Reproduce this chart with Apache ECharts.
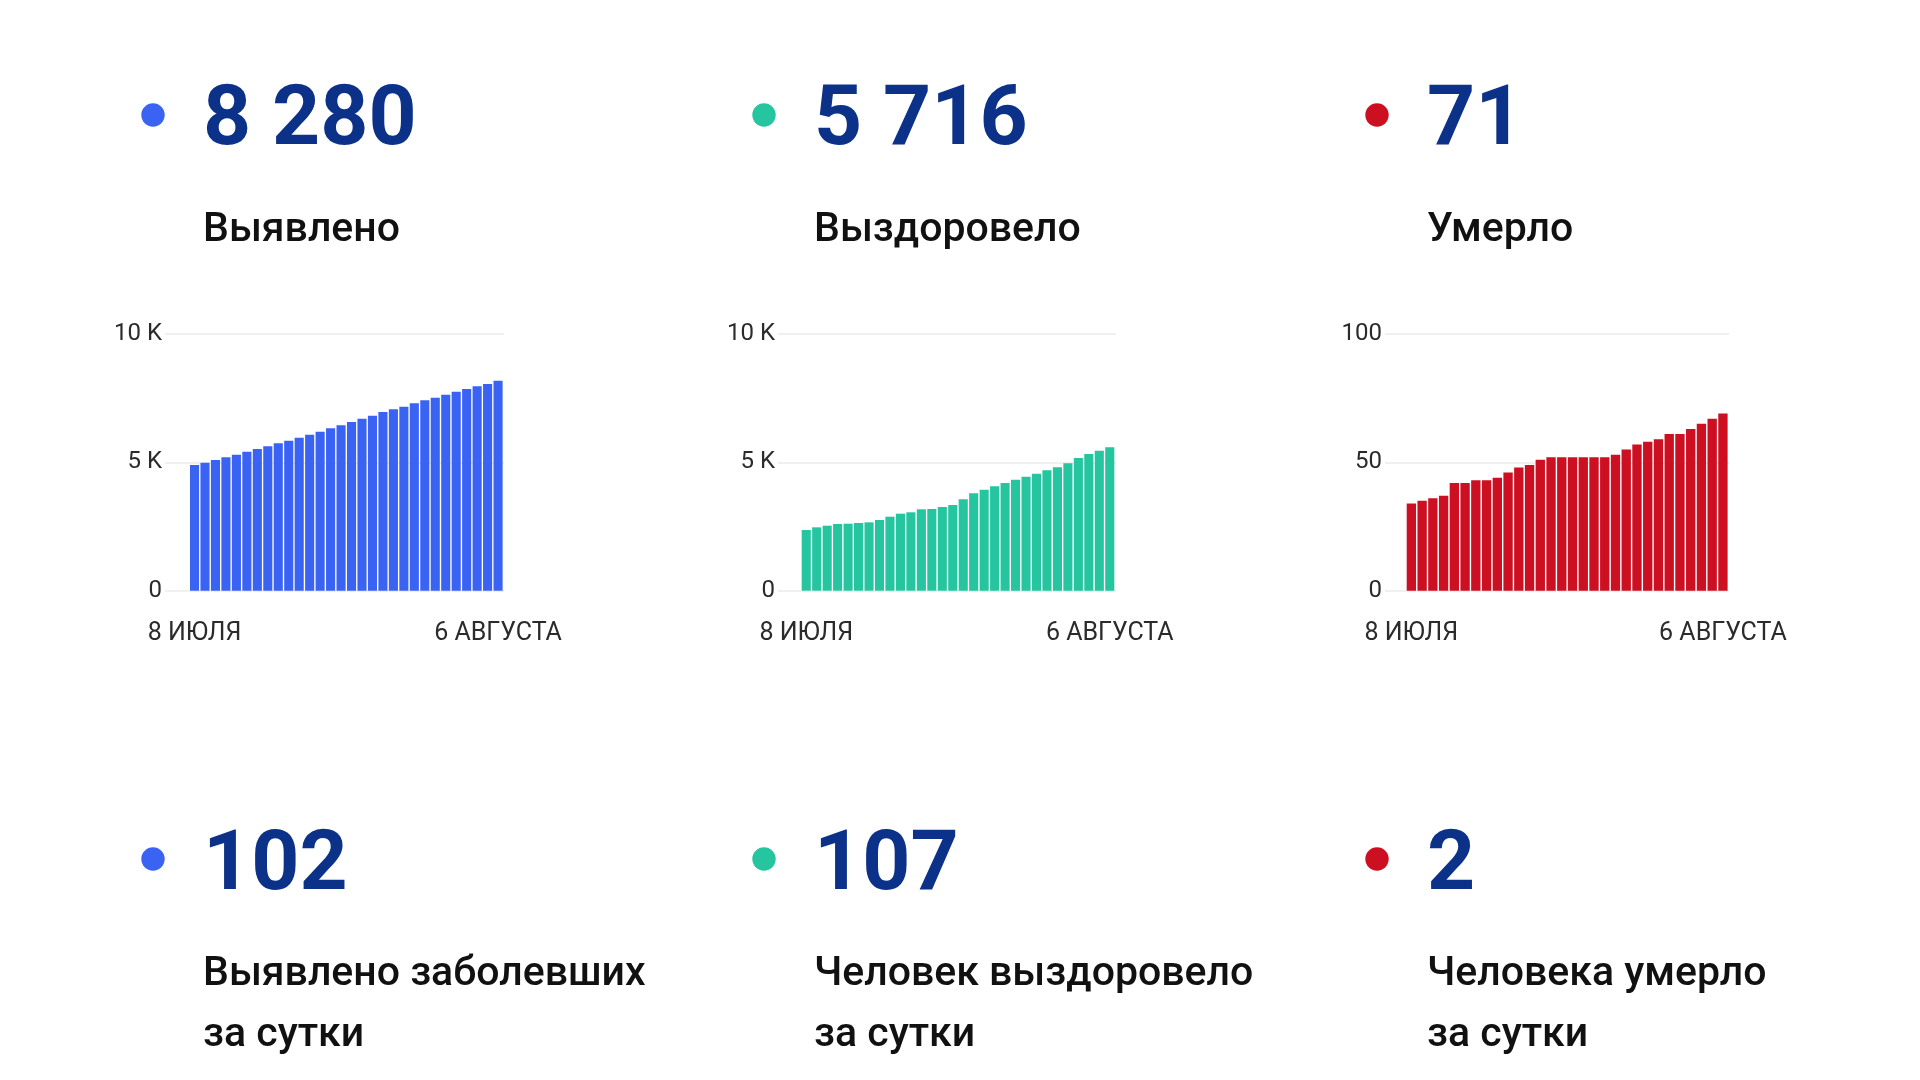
<!DOCTYPE html>
<html>
<head>
<meta charset="utf-8">
<script src="https://cdn.jsdelivr.net/npm/echarts@6/dist/echarts.min.js"></script>
<style>
html,body{margin:0;padding:0;background:#fff;}
#c{width:1920px;height:1080px;}
</style>
</head>
<body>
<div id="c"></div>
<script>
// ---- data ----
var dates = ["8 ИЮЛЯ","9 ИЮЛЯ","10 ИЮЛЯ","11 ИЮЛЯ","12 ИЮЛЯ","13 ИЮЛЯ","14 ИЮЛЯ","15 ИЮЛЯ","16 ИЮЛЯ","17 ИЮЛЯ",
  "18 ИЮЛЯ","19 ИЮЛЯ","20 ИЮЛЯ","21 ИЮЛЯ","22 ИЮЛЯ","23 ИЮЛЯ","24 ИЮЛЯ","25 ИЮЛЯ","26 ИЮЛЯ","27 ИЮЛЯ",
  "28 ИЮЛЯ","29 ИЮЛЯ","30 ИЮЛЯ","31 ИЮЛЯ","1 АВГУСТА","2 АВГУСТА","3 АВГУСТА","4 АВГУСТА","5 АВГУСТА","6 АВГУСТА"];
var confirmed = [4897,4987,5092,5196,5298,5415,5520,5625,5742,5843,5960,6077,6194,6326,6443,6572,6700,6817,6961,7066,
  7168,7300,7417,7519,7636,7752,7858,7963,8052,8178];
var recovered = [2365,2469,2532,2598,2610,2637,2663,2754,2883,3000,3054,3171,3183,3261,3339,3561,3794,3934,4067,4196,
  4324,4441,4558,4690,4807,4963,5169,5325,5454,5585];
var deaths = [34,35,36,37,42,42,43,43,44,46,48,49,51,52,52,52,52,52,52,53,55,57,58,59,61,61,63,65,67,69];

var totals = ["8 280","5 716","71"];
var totalLabels = ["Выявлено","Выздоровело","Умерло"];
var daily = ["102","107","2"];
var dailyLabels1 = ["Выявлено заболевших","Человек выздоровело","Человека умерло"];
var dailyLabels2 = ["за сутки","за сутки","за сутки"];
var yMax = [10000,10000,100];
var yInterval = [5000,5000,50];
var colors = ["#3a63f4","#25c59f","#cd0f22"];

// ---- layout ----
var dotX = [153,764,1377];
var textX = [205,816,1429];
var gridA = [{l:165,w:339},{l:778,w:338},{l:1385,w:344}];
var gridB = [{l:189.3,w:314},{l:801,w:314},{l:1406,w:322.3}];
var gTop = 334, gH = 256.7;
var numColor = "#0b3189";
var font = "Roboto";

function yFmt(v){
  if (v === 0) return "0";
  if (v >= 1000) return (v/1000) + " K";
  return String(v);
}

var grids = [], xAxes = [], yAxes = [], series = [], graphics = [];
var seriesData = [confirmed, recovered, deaths];

for (var i = 0; i < 3; i++) {
  // grid A (gridlines + y labels)
  grids.push({left: gridA[i].l, width: gridA[i].w, top: gTop, height: gH});
  xAxes.push({type:'value', gridIndex: 2*i, min:0, max:1, show:false});
  yAxes.push({type:'value', gridIndex: 2*i, min:0, max:yMax[i], interval:yInterval[i],
    axisLine:{show:false}, axisTick:{show:false},
    splitLine:{show:true, lineStyle:{color:'#ebebeb', width:1.5}},
    axisLabel:{formatter:yFmt, fontFamily:font, fontSize:24, color:'#2b2b2b', margin:3, padding:[4,0,0,0]}
  });
  // grid B (bars)
  grids.push({left: gridB[i].l, width: gridB[i].w, top: gTop, height: gH});
  xAxes.push({type:'category', gridIndex: 2*i+1, data: dates, boundaryGap:true,
    axisLine:{show:false}, axisTick:{show:false},
    axisLabel:{fontFamily:font, fontSize:25, color:'#2b2b2b', margin:31,
      interval:function(idx){ return idx === 0 || idx === dates.length-1; }}
  });
  yAxes.push({type:'value', gridIndex: 2*i+1, min:0, max:yMax[i], show:false, splitLine:{show:false}});
  series.push({type:'bar', xAxisIndex: 2*i+1, yAxisIndex: 2*i+1, data: seriesData[i],
    barCategoryGap:'13%', itemStyle:{color:colors[i]}, silent:true, animation:false});

  // headline rows
  graphics.push({type:'circle', shape:{cx:dotX[i], cy:115, r:11.7}, style:{fill:colors[i]}});
  graphics.push({type:'text', x:textX[i]-2, y:123, style:{text:totals[i], font:'bold 84px Roboto', fill:numColor, verticalAlign:'middle', textAlign:'left'}});
  graphics.push({type:'text', x:textX[i]-2, y:231, style:{text:totalLabels[i], font:'500 41px Roboto', fill:'#111', verticalAlign:'middle', textAlign:'left'}});

  graphics.push({type:'circle', shape:{cx:dotX[i], cy:859, r:11.7}, style:{fill:colors[i]}});
  graphics.push({type:'text', x:textX[i]-2, y:868, style:{text:daily[i], font:'bold 84px Roboto', fill:numColor, verticalAlign:'middle', textAlign:'left'}});
  graphics.push({type:'text', x:textX[i]-2, y:975, style:{text:dailyLabels1[i], font:'500 41px Roboto', fill:'#111', verticalAlign:'middle', textAlign:'left'}});
  graphics.push({type:'text', x:textX[i]-2, y:1036, style:{text:dailyLabels2[i], font:'500 41px Roboto', fill:'#111', verticalAlign:'middle', textAlign:'left'}});
}

var chart = echarts.init(document.getElementById('c'), null, {renderer:'canvas'});
chart.setOption({
  backgroundColor:'#ffffff',
  animation:false,
  grid: grids, xAxis: xAxes, yAxis: yAxes, series: series,
  graphic: graphics
});
</script>
</body>
</html>
